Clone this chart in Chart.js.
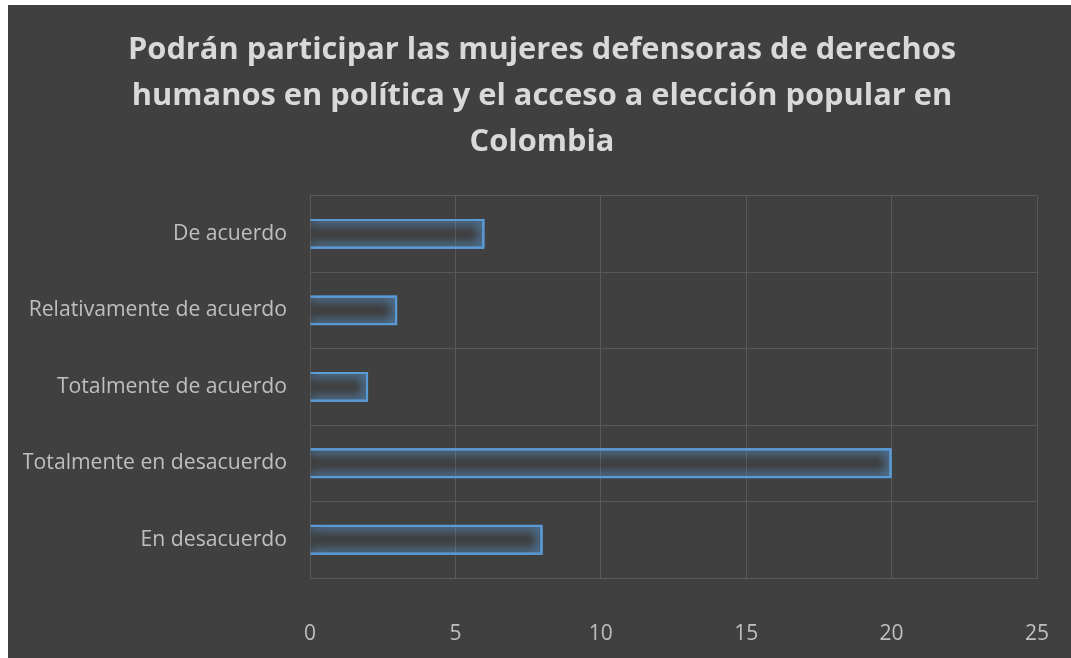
<!DOCTYPE html>
<html>
<head>
<meta charset="utf-8">
<script src="https://cdn.jsdelivr.net/npm/chart.js@4"></script>
<style>
  html, body { margin: 0; padding: 0; background: #ffffff; }
  #wrap { position: absolute; left: 8px; top: 5px; width: 1063px; height: 653px; background: #404040; }
</style>
</head>
<body>
<div id="wrap"><canvas id="myChart" width="1063" height="653"></canvas></div>
<script>
// datos
var categorias = ['De acuerdo', 'Relativamente de acuerdo', 'Totalmente de acuerdo', 'Totalmente en desacuerdo', 'En desacuerdo'];
var valores = [6, 3, 2, 20, 8];
var titulo = ['Podrán participar las mujeres defensoras de derechos', 'humanos en política y el acceso a elección popular en', 'Colombia'];

// brillo azul alrededor de las barras (se repasan los mismos elementos con sombra)
var glow = {
    id: 'glow',
    beforeDatasetsDraw: function(chart) {
        var ctx = chart.ctx;
        ctx.save();
        ctx.shadowColor = 'rgba(91, 155, 213, 1)';
        ctx.shadowBlur = 11;
    },
    afterDatasetsDraw: function(chart) {
        var ctx = chart.ctx;
        var meta = chart.getDatasetMeta(0);
        for (var k = 0; k < 2; k++) {
            meta.data.forEach(function(el) { el.draw(ctx); });
        }
        ctx.restore();
    }
};

var ctx = document.getElementById('myChart').getContext('2d');
var chart = new Chart(ctx, {
    type: 'bar',
    data: {
        labels: categorias,
        datasets: [{
            data: valores,
            backgroundColor: 'rgba(0,0,0,0)',
            borderColor: '#5b9bd5',
            borderWidth: 2,
            categoryPercentage: 1,
            barPercentage: 0.39
        }]
    },
    options: {
        indexAxis: 'y',
        responsive: false,
        animation: false,
        layout: { padding: { left: 15, right: 10, top: 0, bottom: 0 } },
        plugins: {
            legend: { display: false },
            tooltip: { enabled: false },
            title: {
                display: true,
                text: titulo,
                color: '#d9d9d9',
                font: { family: '"Open Sans", sans-serif', size: 30.8, weight: 'bold', lineHeight: 1.5 },
                padding: { top: 22, bottom: 30 }
            }
        },
        scales: {
            x: {
                min: 0,
                max: 25,
                ticks: {
                    stepSize: 5,
                    color: '#bfbfbf',
                    font: { family: '"Open Sans", sans-serif', size: 21 },
                    padding: 43
                },
                grid: { color: '#595959', lineWidth: 1, drawTicks: false },
                border: { display: true, color: '#595959' },
                afterFit: function(scale) {
                    scale.height = 80;
                    scale.paddingRight = 34;
                }
            },
            y: {
                ticks: {
                    color: '#bfbfbf',
                    font: { family: '"Open Sans", sans-serif', size: 21.2 },
                    padding: 23
                },
                grid: { color: '#595959', lineWidth: 1, drawTicks: false, offset: true },
                border: { display: false },
                afterFit: function(scale) { scale.width = 287; }
            }
        }
    },
    plugins: [glow]
});
</script>
</body>
</html>
